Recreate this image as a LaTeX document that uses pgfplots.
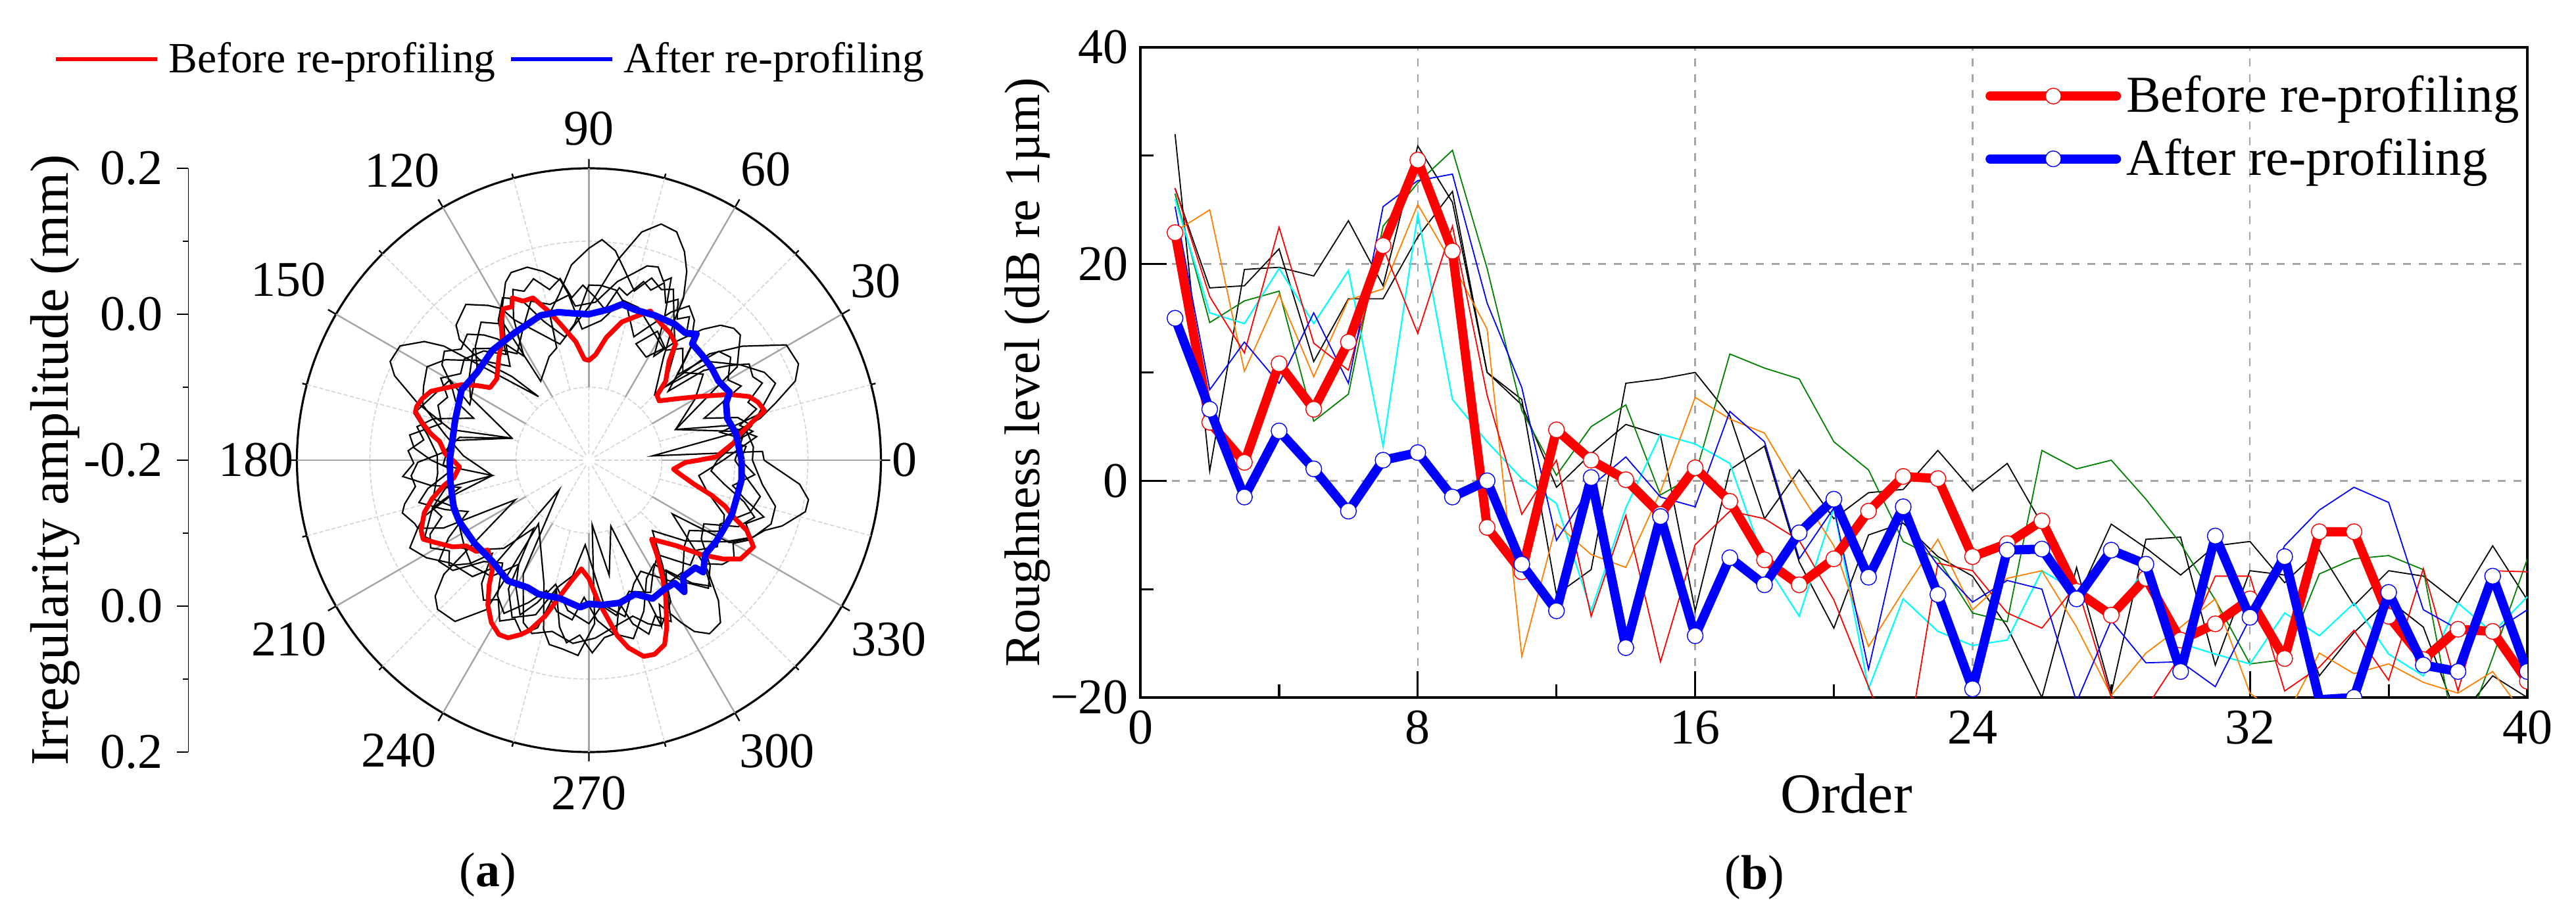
\documentclass[border=0pt]{standalone}
\usepackage{fontspec}
\setmainfont{Liberation Serif}
\usepackage{pgfplots}
\usepackage{pgfplotstable}
\pgfplotsset{compat=1.18}
\usepgfplotslibrary{polar}
\newcommand{\fs}[1]{\fontsize{#1}{#1}\selectfont}
\definecolor{gridgray}{RGB}{165,165,165}
\definecolor{ringgray}{RGB}{212,212,212}
\definecolor{dgreen}{RGB}{0,128,0}
\definecolor{dorange}{RGB}{255,128,0}
\definecolor{pcyan}{RGB}{0,255,255}
\definecolor{pred}{RGB}{255,0,0}
\definecolor{pblue}{RGB}{0,0,255}
\pgfplotstableread{
n a b g c o r u R U
1 32 27 26.5 26 23 27 25.3 22.9 15
2 .9 17.8 14.6 15.5 25 17 8.4 5.4 6.6
3 19.5 18 16.6 14.5 10.1 11.8 12.8 1.7 -1.5
4 19.7 21.4 17.5 19.6 17.2 23.4 9 10.8 4.6
5 18.9 11 5.5 14.5 9.6 12.7 15.5 6.6 1.1
6 24 16.8 8 19.4 16.7 10.2 9 12.8 -2.8
7 18 16.8 23.5 3.2 17.7 21.5 25.3 21.7 1.9
8 30.9 22.5 27.5 24.6 25.5 13.6 27.7 29.6 2.6
9 25.7 26.7 30.5 7.5 20 23.5 28.3 21.2 -1.5
10 10 10 19.6 3.6 14 7.9 16.4 -4.3 0
11 7 7.5 6.5 .2 -16.2 -3.1 8.6 -8.4 -7.7
12 -.6 -10.5 .5 -2.1 -4 1.9 -5.5 4.7 -12
13 2.5 -8.2 5 -12 -6.8 -12.5 -.5 1.9 .3
14 5.2 9 7 -2.5 -8 -3.2 2.2 .1 -15.4
15 4.2 9.4 -1.3 4.3 -1 -16.7 -1.5 -3.1 -3.3
16 -12 10 .5 3.4 7.7 -5.9 -2.4 1.2 -14.3
17 1 6 11.7 1.6 5.7 -2.8 6.4 -1.9 -7.1
18 3.2 -3.5 10.4 -7.5 4.4 -3.5 3.6 -7.3 -9.6
19 -7.5 1 9.4 -12.5 -1 -5.5 -7.2 -9.6 -4.8
20 -13.6 -3.5 3.6 -2.5 -6 -11 -2.5 -7.2 -1.7
21 -5 -1.1 1 -19.2 -15.3 -19 -17.4 -2.8 -8.9
22 -3.9 -.8 -5.6 -10.9 -10.2 -27 -3.3 .4 -2.4
23 -7 2.8 -7.2 -13.9 -5.4 -7.6 -7.8 .2 -10.5
24 -8.8 -.9 -12.2 -15.2 -11.9 -8.3 -11.2 -7 -19.2
25 -13.5 1.6 -13 -14.7 -9 -12.2 -9.2 -5.8 -6.4
26 -20 -4 2.8 -8.3 -8.3 -13.6 -10 -3.7 -6.3
27 -8 -11 1.1 -10.2 -13.5 -9.6 -20.4 -10.2 -10.9
28 -19.6 -4 1.9 -13 -19.8 -20 -12.9 -12.4 -6.4
29 -5.4 -6.2 -1.7 -7.8 -15.9 -21 -16.8 -9 -7.7
30 -5.2 -8.7 -5.8 -15 -13.5 -16.1 -16.7 -14.7 -17.6
31 -17 -6 -11 -16 -10.9 -8.8 -19 -13.2 -5.1
32 -8.3 -5.6 -16.9 -16.9 -19.6 -8.8 -12.7 -10.9 -12.6
33 -8.7 -9.4 -16.5 -12.2 -22 -19.4 -6 -16.4 -7
34 -18 -6.4 -8.6 -14.3 -15.9 -17.2 -2.7 -4.7 -20.2
35 -14 -11.5 -7.2 -11.3 -17.8 -13.8 -.6 -4.7 -20
36 -11 -8.3 -6.9 -16 -16.9 -18.4 -2 -12.5 -10.3
37 -13.5 -8.8 -8.2 -18 -18.6 -8.1 -11.9 -16.5 -17
38 -22 -11.3 -25 -11.3 -19.6 -19.4 -13.7 -13.7 -17.6
39 -18 -6 -16.3 -14 -17.6 -8.3 -14 -13.9 -8.8
40 -20 -11 -7.2 -10.7 -22 -8.4 -11.9 -18.5 -17.6
}\rough
\begin{document}
\begin{tikzpicture}
\useasboundingbox (0pt,0pt) rectangle (979.25pt,350.75pt);
% left radial scale of panel (a)
\begin{axis}[
  at={(71.6pt,64.75pt)}, anchor=south west, scale only axis,
  width=1pt, height=222pt,
  axis y line=left, axis x line=none,
  xmin=0, xmax=1, ymin=-0.4, ymax=0.4,
  ytick={-0.4,-0.2,0,0.2,0.4},
  yticklabels={0.2,0.0,-0.2,0.0,0.2},
  minor y tick num=1,
  y axis line style={-, line width=0.45pt},
  ytick align=outside,
  major tick length=4.3pt, minor tick length=2.2pt,
  tick style={black, line width=0.45pt},
  yticklabel style={font=\fs{19}, inner sep=0pt, xshift=-5.2pt},
  ylabel={Irregularity amplitude (mm)},
  ylabel style={font=\fs{20.6}, at={(axis description cs:-50.8,0.5)}, anchor=center, rotate=0},
]
\addplot[draw=none, forget plot] coordinates {(0,0)};
\end{axis}
% polar panel (a); radial coordinate: 0 = -0.2 mm at the centre, 1 = +0.2 mm at the rim
\begin{polaraxis}[
  at={(223.875pt,175.75pt)}, anchor=center, scale only axis,
  width=222pt, height=222pt,
  clip=false,
  xmin=0, xmax=360, ymin=0, ymax=1,
  xtick={0,30,...,330}, minor x tick num=1, xticklabels={},
  xtick pos=upper,
  ytick={0.25,0.5,0.75}, yticklabels={},
  ymajorgrids=true, grid style={ringgray, dash pattern=on 1.6pt off 0.8pt, line width=0.4pt},
  y axis line style={draw=none},
  x axis line style={line width=0.8pt},
  ytick style={draw=none},
  xtick style={black, line width=0.6pt},
  xtick align=inside,
  major tick length=3.5pt, minor tick length=1.8pt,
  legend columns=2,
  legend style={at={(-0.417,1.187)}, anchor=west, draw=none, fill=none, inner sep=0pt,
    font=\fs{16.4}, /tikz/every even column/.append style={column sep=3pt}},
  legend cell align=left,
  legend image code/.code={\draw[#1, line width=1.6pt] (0pt,0pt) -- (38.5pt,0pt);},
]
\pgfplotsinvokeforeach{15,45,75,105,135,165,195,225,255,285,315,345}{
  \addplot[forget plot, ringgray, dash pattern=on 1.6pt off 0.8pt, line width=0.4pt] coordinates {(#1,0.25) (#1,1)};
}
\pgfplotsinvokeforeach{0,30,60,90,120,150,180,210,240,270,300,330}{
  \addplot[forget plot, gridgray, line width=0.6pt] coordinates {(#1,0.25) (#1,1)};
}
\node[fill=white, circle, inner sep=1.2pt] at (axis cs:0,0) {};
\addplot[forget plot, black, line width=0.55pt] coordinates {
(0,.60)(2.9,.595)(3.9,.219)(10.5,.497)(13.7,.603)(17,.668)(21,.757)(24.7,.79)(30.3,.783)(36.6,.655)(41.4,.551)(45,.319)(54.1,.436)(58.6,.564)(59.8,.644)(62.6,.728)(65.4,.786)(69,.838)(73,.846)(77,.802)(81.9,.691)(90,.526)
(104,.41)(118,.545)(120,.6)(123.1,.633)(128.3,.68)(134.5,.649)(137,.606)(137.4,.51)(132.6,.389)(128.4,.278)(141.8,.632)(144.2,.695)(148.8,.756)(153.6,.76)(156.5,.726)(161.6,.618)(167.5,.485)(164,.274)
(170,.45)(177,.5)(180.7,.586)(185,.611)(188.6,.601)(193.4,.649)(195.8,.664)(200,.635)(201.7,.631)(205,.55)(208.3,.286)(218.2,.632)(221.5,.703)(224.6,.728)(230.3,.718)(235.6,.62)(231.6,.278)
(250,.45)(255,.6)(257.9,.646)(262,.653)(266.8,.67)(272,.56)(272.9,.222)(280,.4)(288.4,.238)(293.6,.62)(296,.55)(299.6,.64)(301.6,.689)(304.8,.724)(309,.716)(312.7,.654)(317.2,.553)(327.2,.34)(329.6,.558)(334.4,.617)(338.2,.648)(341.2,.699)(346.6,.762)(349.8,.764)(353.5,.726)(360,.60)};
\addplot[forget plot, black, line width=0.55pt] coordinates {
(0,.56)(4.6,.565)(10.2,.55)(19.5,.315)(30.3,.522)(32.2,.6)(39.6,.673)(42.3,.671)(45.7,.646)(49,.594)(54,.5)(58,.42)(62,.55)(65.7,.685)(67.4,.664)(70.3,.703)(73.3,.695)(76.8,.656)(80.9,.62)(87.6,.542)(95,.53)(99,.624)(103.7,.666)(107.7,.694)(112.5,.696)(115.1,.673)(119.4,.604)(125,.5)(130,.42)(137,.5)(145,.6)(150,.64)(156,.62)(161.6,.6)(170,.5)(178,.43)(189,.335)(195,.5)(199,.6)(201.7,.631)(206.1,.683)(211,.649)(216.7,.59)(225,.564)(228,.5)(225,.144)(240,.45)(248,.6)(251.8,.625)(257.9,.6)(265,.63)(272,.61)(278,.58)(285.7,.555)(289.9,.596)(293.6,.62)(300,.56)(305,.44)(312,.325)(320,.43)(329,.543)(335,.622)(340.7,.661)(346.1,.658)(352,.6)(360,.56)};
\addplot[forget plot, black, line width=0.55pt] coordinates {
(0,.5)(8,.53)(12,.46)(15,.6)(22.4,.691)(26.6,.672)(32.2,.613)(38.8,.538)(44,.36)(52,.48)(58,.55)(63.7,.653)(67,.635)(71,.66)(75,.6)(78.7,.652)(82.8,.723)(86.6,.757)(90,.726)(95.1,.672)(100,.58)(105,.52)(106,.4)(111,.38)(121.4,.317)(122,.55)(128,.6)(135,.55)(140,.5)(155,.45)(150,.55)(165,.62)(171,.56)(178,.52)(185,.52)(194,.55)(200,.48)(208,.5)(215,.52)(222,.54)(230,.52)(236,.43)(240,.5)(246,.58)(250,.52)(255,.44)(262,.52)(270,.56)(275,.5)(280,.54)(287,.47)(295,.5)(300,.44)(306,.4)(314,.5)(320,.48)(326,.53)(334,.5)(342,.58)(348,.6)(354,.54)(360,.5)};
\addplot[forget plot, black, line width=0.55pt] coordinates {
(0,.46)(8,.58)(14,.49)(19.5,.315)(30,.42)(37,.49)(43,.44)(50,.5)(55,.46)(62,.5)(68,.43)(61,.404)(56.3,.46)(72,.55)(78,.56)(85,.48)(93,.45)(97,.57)(104,.55)(110,.58)(117,.5)(124,.44)(130,.5)(136,.55)(145,.5)(152,.46)(164,.274)(172,.48)(182,.5)(189,.335)(191,.5)(197,.56)(205,.62)(210,.58)(218,.5)(226,.42)(231,.3)(238,.52)(244,.6)(251,.56)(256,.45)(262,.4)(267.5,.29)(276,.5)(283,.55)(290,.45)(295,.42)(304,.5)(310,.5)(318,.44)(325,.42)(332,.52)(338,.5)(345,.42)(352,.38)(360,.46)};
\addplot[forget plot, black, line width=0.55pt] coordinates {
(0,.52)(5,.54)(7,.5)(10,.57)(13,.53)(17,.6)(20,.58)(24,.65)(27,.63)(31,.64)(34,.58)(38,.5)(41,.36)(46,.47)(49,.56)(52,.54)(55,.6)(58,.57)(61,.63)(64,.6)(67,.66)(70,.62)(73,.64)(77,.58)(80,.6)(84,.52)(88,.56)(92,.6)(96,.56)(99,.63)(103,.6)(107,.65)(111,.62)(114,.64)(118,.55)(122,.42)(127,.52)(130,.56)(134,.6)(139,.58)(143,.62)(147,.6)(151,.54)(156,.5)(160,.42)(165,.55)(169,.6)(173,.57)(177,.62)(181,.6)(185,.64)(189,.55)(192,.45)(197,.56)(201,.54)(205,.6)(209,.62)(213,.57)(217,.6)(221,.54)(224,.46)(229,.56)(233,.6)(237,.57)(241,.63)(245,.6)(249,.64)(253,.6)(256,.46)(260,.58)(263,.63)(267,.6)(271,.66)(275,.61)(279,.6)(282,.5)(285,.58)(289,.63)(293,.58)(297,.62)(301,.52)(305,.46)(310,.55)(314,.6)(318,.53)(322,.58)(326,.6)(330,.57)(334,.62)(338,.58)(342,.63)(346,.55)(350,.5)(355,.57)(360,.52)};
\addplot[forget plot, black, line width=0.55pt] coordinates {
(0,.44)(6,.5)(12,.57)(16,.53)(20,.42)(26,.58)(30,.55)(36,.6)(40,.58)(44,.42)(48,.52)(53,.6)(57,.63)(61,.58)(66,.5)(70,.45)(76,.54)(81,.59)(86,.6)(90,.6)(96,.47)(101,.43)(108,.5)(113,.6)(118,.63)(123,.57)(128,.46)(134,.52)(141,.55)(146,.53)(151,.58)(156,.53)(160,.55)(166,.52)(172,.62)(176,.6)(180,.54)(184,.47)(190,.56)(194,.6)(199,.52)(203,.45)(209,.55)(214,.62)(219,.6)(224,.5)(230,.46)(236,.56)(241,.6)(247,.53)(252,.47)(258,.53)(264,.55)(268,.47)(273,.55)(278,.6)(284,.63)(290,.55)(296,.45)(302,.42)(308,.53)(313,.6)(319,.55)(325,.47)(331,.45)(336,.56)(341,.6)(345,.55)(350,.47)(355,.42)(360,.44)};
\addplot[pred, line width=1.8pt, line join=round] coordinates {
(0,.376)(1.5,.436)(6.9,.50)(9.9,.526)(14,.589)(15.7,.625)(19,.612)(21.7,.59)(25.1,.531)(30.1,.435)(35,.367)(40.2,.315)(43.6,.322)(45.8,.377)(51,.436)(53.3,.497)(57.5,.517)(62,.528)(67.6,.553)(72.9,.511)(76.6,.487)(81.9,.425)(86.4,.362)(90,.342)
(92.5,.346)(96.3,.408)(101.8,.476)(104.9,.525)(109,.588)(112.5,.59)(115.3,.615)(116.6,.588)(119.5,.596)(122.4,.561)(125.7,.509)(131.1,.469)(138.6,.421)(143.7,.42)(146.3,.461)(149.3,.507)(153.1,.548)(156.4,.59)(159.8,.609)(162.7,.618)(164.4,.617)(167.4,.585)(170.5,.549)(172.9,.515)(177.4,.493)(180,.466)
(182.9,.444)(187.4,.466)(189.9,.504)(193.8,.553)(197.7,.592)(202.7,.623)(205.5,.629)(208.2,.597)(212.5,.553)(214.9,.513)(218.9,.497)(221.7,.463)(228.7,.501)(231.4,.548)(235.1,.605)(239,.649)(242.7,.672)(245.5,.669)(248.7,.641)(250.8,.617)(254.3,.555)(257.5,.485)(261.7,.418)(266,.373)(270,.406)
(273.6,.482)(276.4,.537)(279.2,.609)(281.9,.657)(285.6,.698)(288.7,.702)(292.3,.683)(295,.631)(299.4,.535)(302.3,.471)(305.8,.398)(308.4,.345)(315.7,.42)(319.9,.502)(323.6,.57)(326.9,.62)(332.2,.637)(336,.592)(338.5,.533)(341.3,.492)(344,.438)(347.1,.37)(351.7,.311)(354,.291)(358.7,.331)(360,.376)};
\addlegendentry{\hspace{1.5pt}Before re-profiling}
\addplot[pblue, line width=2.5pt, line join=round] coordinates {
(0,.523)(4.2,.516)(10.2,.512)(16.8,.495)(22.6,.509)(25.8,.535)(31.4,.52)(36.9,.526)(43,.529)(48.4,.533)(49.6,.568)(52.8,.547)(57.8,.551)(65.6,.545)(73,.539)(78,.546)(81.8,.524)(90,.50)
(96.8,.507)(101.7,.518)(108.4,.523)(120.4,.505)(131.3,.501)(141.9,.487)(151.1,.498)(163.6,.478)(177.3,.474)(180,.477)
(189,.48)(196.2,.486)(199.7,.491)(205.4,.491)(216.2,.484)(226.3,.479)(236.1,.498)(244.2,.484)(249.3,.49)(258.3,.484)(266.6,.505)(270,.492)
(275.2,.498)(282.2,.5)(289,.485)(294.7,.522)(300,.512)(304.9,.513)(305.9,.557)(309,.513)(314.7,.518)(315.6,.548)(320.9,.513)(327.5,.517)(332.3,.518)(338.9,.524)(345,.522)(352.6,.527)(360,.523)};
\addlegendentry{\hspace{1.5pt}After re-profiling}
\node[font=\fs{19}] at (axis cs:0,1.082) {0};
\node[font=\fs{19}] at (axis cs:32,1.157) {30};
\node[font=\fs{19}] at (axis cs:58.7,1.165) {60};
\node[font=\fs{19}] at (axis cs:90,1.135) {90};
\node[font=\fs{19}] at (axis cs:122.8,1.18) {120};
\node[font=\fs{19}] at (axis cs:149,1.2) {150};
\node[font=\fs{19}] at (axis cs:180,1.14) {180};
\node[font=\fs{19}] at (axis cs:210.8,1.197) {210};
\node[font=\fs{19}] at (axis cs:236.8,1.19) {240};
\node[font=\fs{19}] at (axis cs:270,1.14) {270};
\node[font=\fs{19}] at (axis cs:302.9,1.186) {300};
\node[font=\fs{19}] at (axis cs:329.2,1.197) {330};
\end{polaraxis}
% panel (b)
\begin{axis}[
  at={(433.5pt,85.5pt)}, anchor=south west, scale only axis,
  width=527.25pt, height=247.25pt,
  xmin=0, xmax=40, ymin=-20, ymax=40,
  xtick={0,8,16,24,32,40}, ytick={-20,0,20,40},
  xticklabels={0,8,16,24,32,40},
  yticklabels={−20,0,20,40},
  minor x tick num=1, minor y tick num=1,
  tick align=inside, tick pos=left,
  major tick length=10pt, minor tick length=5pt,
  tick style={black, line width=0.8pt},
  axis line style={line width=1pt},
  grid=major, grid style={gridgray, dashed, line width=0.6pt},
  ticklabel style={font=\fs{19}},
  yticklabel style={xshift=-1pt},
  xticklabel style={yshift=-1.5pt},
  xlabel={Order}, ylabel={Roughness level (dB re 1µm)},
  xlabel style={font=\fs{21.5}, at={(axis description cs:0.509,-0.148)}, anchor=center},
  ylabel style={font=\fs{19}, at={(axis description cs:-0.0815,0.5)}, anchor=center},
  clip marker paths=true,
  legend style={at={(0.609,0.965)}, anchor=north west, draw=none, fill=none, inner sep=0pt,
    font=\fs{19.7}, row sep=4.5pt},
  legend cell align=left,
  legend image code/.code={\draw[#1, line cap=round] (0pt,0pt) -- (48pt,0pt);
     \draw[#1, mark repeat=1] plot coordinates {(24pt,0pt)};},
]
\addplot[forget plot, black, line width=0.45pt] table[x=n,y=a] {\rough};
\addplot[forget plot, black, line width=0.45pt] table[x=n,y=b] {\rough};
\addplot[forget plot, dgreen, line width=0.45pt] table[x=n,y=g] {\rough};
\addplot[forget plot, pcyan, line width=0.55pt] table[x=n,y=c] {\rough};
\addplot[forget plot, dorange, line width=0.45pt] table[x=n,y=o] {\rough};
\addplot[forget plot, pred, line width=0.45pt] table[x=n,y=r] {\rough};
\addplot[forget plot, pblue, line width=0.45pt] table[x=n,y=u] {\rough};
\addplot[pred, line width=3.5pt, line join=round, mark=*, mark size=3pt,
  mark options={fill=white, draw=pred, line width=0.35pt}] table[x=n,y=R] {\rough};
\addlegendentry{Before re-profiling}
\addplot[pblue, line width=3.5pt, line join=round, mark=*, mark size=3pt,
  mark options={fill=white, draw=pblue, line width=0.35pt}] table[x=n,y=U] {\rough};
\addlegendentry{After re-profiling}
\end{axis}
\node[font=\fs{18.5}, anchor=center] at (185.5pt,18pt) {(\textbf{a})};
\node[font=\fs{18.5}, anchor=center] at (667pt,17pt) {(\textbf{b})};
\end{tikzpicture}
\end{document}
